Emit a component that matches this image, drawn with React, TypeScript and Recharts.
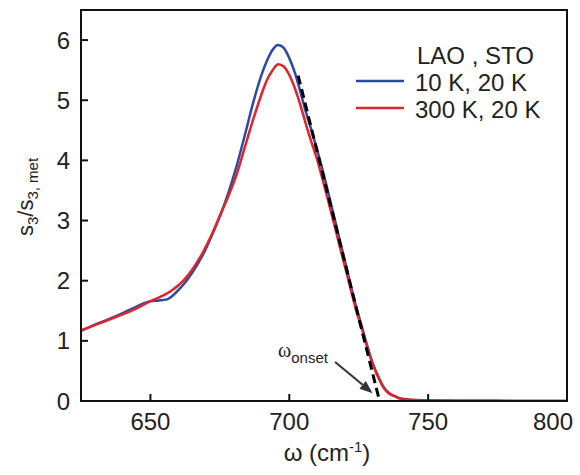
import { LineChart, Line, XAxis, YAxis, ReferenceLine, ReferenceArea, Legend } from "recharts";

const omega = [
  625, 630, 635, 640, 645, 650, 653, 656, 658, 660, 663, 666, 669, 672, 675, 678, 681, 684, 687, 690,
  692, 694, 696, 698, 700, 702, 704, 706, 708, 710, 712, 714, 716, 718, 720, 722, 724, 726, 728, 730,
  732, 734, 736, 738, 740, 745, 750, 760, 770, 780, 790, 800,
];
const lao10K = [
  1.17, 1.27, 1.36, 1.46, 1.57, 1.66, 1.67, 1.69, 1.75, 1.84, 2.0, 2.2, 2.44, 2.74, 3.07, 3.45, 3.9, 4.42, 4.96, 5.42,
  5.66, 5.84, 5.92, 5.87, 5.7, 5.46, 5.14, 4.8, 4.5, 4.18, 3.84, 3.47, 3.09, 2.71, 2.33, 1.95, 1.58, 1.26, 0.93, 0.63,
  0.41, 0.23, 0.13, 0.08, 0.04, 0.015, 0.008, 0.004, 0.003, 0.002, 0.002, 0.002,
];
const lao300K = [
  1.17, 1.26, 1.35, 1.44, 1.54, 1.66, 1.72, 1.79, 1.85, 1.92, 2.06, 2.25, 2.48, 2.76, 3.08, 3.4, 3.76, 4.22, 4.68, 5.1,
  5.34, 5.5, 5.6, 5.56, 5.42, 5.2, 4.92, 4.6, 4.3, 4.02, 3.68, 3.33, 2.97, 2.6, 2.24, 1.88, 1.52, 1.22, 0.9, 0.62,
  0.4, 0.22, 0.12, 0.08, 0.04, 0.015, 0.008, 0.004, 0.003, 0.002, 0.002, 0.002,
];
const xTicks = [650, 700, 750, 800];
const yTicks = [0, 1, 2, 3, 4, 5, 6];
// linear fit of the falling edge
const fitX = [703.2, 732.5];
const fitY = [5.41, 0];
// arrow pointing at omega_onset
const arrowX = [716.5, 730];
const arrowY = [0.65, 0.13];

const data = omega.map((w, i) => ({ w, a: lao10K[i], b: lao300K[i] }));

const FONT = "Arial, 'Liberation Sans', Helvetica, sans-serif";

const XTick = (props: any) => {
  const { x, y, payload } = props;
  // the last label sits against the right edge of the figure
  const last = payload.value === xTicks[xTicks.length - 1];
  return (
    <text
      x={last ? x + 6 : x}
      y={y}
      dy="0.71em"
      textAnchor={last ? "end" : "middle"}
      fontSize={24}
      fill="#222"
      fontFamily={FONT}
    >
      {payload.value}
    </text>
  );
};

const YTitle = () => (
  <text x={33} y={197} transform="rotate(-90, 33, 197)" textAnchor="middle" fontSize={22} fill="#222" fontFamily={FONT}>
    s<tspan dy={5} fontSize={15}>3</tspan>
    <tspan dy={-5}>/s</tspan>
    <tspan dy={5} fontSize={15}>3, met</tspan>
  </text>
);

const XTitle = () => (
  <text x={327} y={461} textAnchor="middle" fontSize={24} fill="#222" fontFamily={FONT}>
    ω (cm<tspan dy={-9} fontSize={15}>-1</tspan>
    <tspan dy={9}>)</tspan>
  </text>
);

const Arrow = (props: any) => {
  const { x1, y1, x2, y2 } = props;
  const ang = Math.atan2(y2 - y1, x2 - x1);
  const len = 13;
  const hw = 5;
  const bx = x2 - len * Math.cos(ang);
  const by = y2 - len * Math.sin(ang);
  const px = -Math.sin(ang) * hw;
  const py = Math.cos(ang) * hw;
  return (
    <g>
      <line x1={x1} y1={y1} x2={bx} y2={by} stroke="#333" strokeWidth={2} />
      <polygon points={`${x2},${y2} ${bx + px},${by + py} ${bx - px},${by - py}`} fill="#333" />
      <text x={x1 - 57} y={y1 - 5} fontSize={20} fill="#222" fontFamily="'Times New Roman', 'Liberation Serif', serif">
        ω
        <tspan dy={6} fontSize={15} fontFamily={FONT}>onset</tspan>
      </text>
    </g>
  );
};

const LegendBox = () => (
  <div style={{ fontFamily: FONT, fontSize: 24, lineHeight: "27px", color: "#222" }}>
    <div style={{ paddingLeft: 61 }}>LAO , STO</div>
    {[
      { c: "#2b4aa6", t: "10 K, 20 K" },
      { c: "#e0242b", t: "300 K, 20 K" },
    ].map((r) => (
      <div key={r.t} style={{ display: "flex", alignItems: "flex-start" }}>
        <svg width={48} height={27}>
          <line x1={0} y1={12} x2={48} y2={12} stroke={r.c} strokeWidth={2.5} />
        </svg>
        <span style={{ marginLeft: 11 }}>{r.t}</span>
      </div>
    ))}
  </div>
);

export default function App() {
  return (
    <div style={{ position: "fixed", left: 0, top: 0, width: 580, height: 475, background: "#fff" }}>
      <LineChart width={580} height={475} data={data} margin={{ top: 10, right: 13, left: 0, bottom: 0 }}>
        <XAxis
          dataKey="w"
          type="number"
          domain={[625, 800]}
          ticks={xTicks}
          allowDataOverflow
          height={74}
          axisLine={{ stroke: "#111", strokeWidth: 2 }}
          tickLine={{ stroke: "#111", strokeWidth: 2 }}
          tickSize={-7}
          tickMargin={19}
          tick={<XTick />}
          label={<XTitle />}
        />
        <YAxis
          type="number"
          domain={[0, 6.5]}
          ticks={yTicks}
          allowDataOverflow
          width={81}
          axisLine={{ stroke: "#111", strokeWidth: 2 }}
          tickLine={{ stroke: "#111", strokeWidth: 2 }}
          tickSize={-7}
          tickMargin={18}
          tick={{ fill: "#222", fontSize: 24, fontFamily: FONT }}
          label={<YTitle />}
        />
        <ReferenceArea x1={625} x2={800} y1={0} y2={6.5} fill="none" stroke="#111" strokeWidth={2} fillOpacity={0} />
        <Line dataKey="a" type="monotone" stroke="#2b4aa6" strokeWidth={2.5} dot={false} isAnimationActive={false} />
        <Line dataKey="b" type="monotone" stroke="#e0242b" strokeWidth={2.5} dot={false} isAnimationActive={false} />
        <ReferenceLine
          segment={[
            { x: fitX[0], y: fitY[0] },
            { x: fitX[1], y: fitY[1] },
          ]}
          stroke="#000"
          strokeWidth={3}
          strokeDasharray="9 5"
        />
        <ReferenceLine
          segment={[
            { x: arrowX[0], y: arrowY[0] },
            { x: arrowX[1], y: arrowY[1] },
          ]}
          shape={<Arrow />}
        />
        <Legend
          layout="vertical"
          align="center"
          verticalAlign="middle"
          wrapperStyle={{ left: 356, top: 42, width: "auto" }}
          content={<LegendBox />}
        />
      </LineChart>
    </div>
  );
}
